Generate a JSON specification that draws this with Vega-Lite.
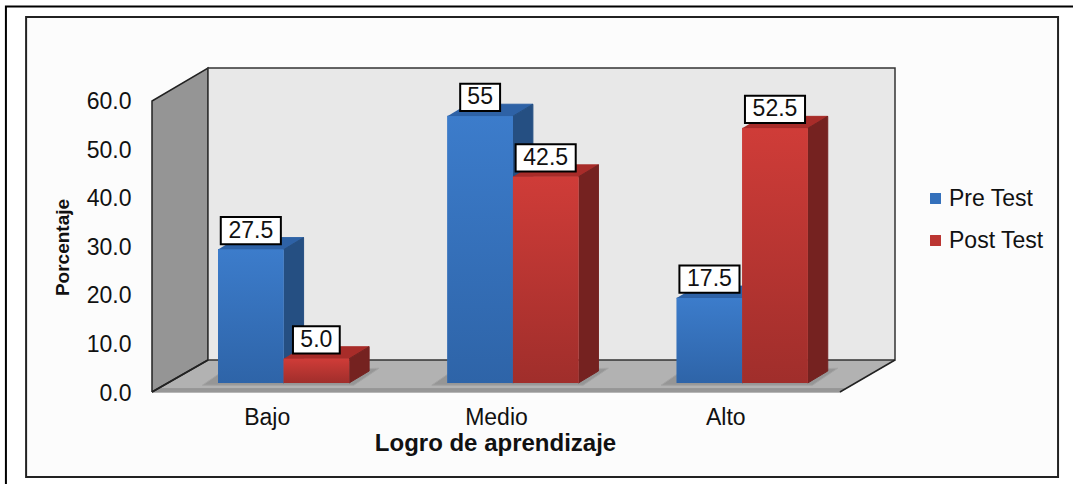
{
"$schema":"https://vega.github.io/schema/vega-lite/v6.json",
"autosize":{"type":"none"},
"width":743,"height":324,
"padding":{"left":152,"top":68,"right":178,"bottom":92},
"background":"#ffffff",
"view":{"stroke":null},
"config":{"font":"Liberation Sans"},
"datasets":{
"bars":[
{"group":"Bajo","g":0,"series":"Pre Test","s":0,"value":27.5,"label":"27.5"},
{"group":"Bajo","g":0,"series":"Post Test","s":1,"value":5.0,"label":"5.0"},
{"group":"Medio","g":1,"series":"Pre Test","s":0,"value":55,"label":"55"},
{"group":"Medio","g":1,"series":"Post Test","s":1,"value":42.5,"label":"42.5"},
{"group":"Alto","g":2,"series":"Pre Test","s":0,"value":17.5,"label":"17.5"},
{"group":"Alto","g":2,"series":"Post Test","s":1,"value":52.5,"label":"52.5"}
],
"frames":[
{"name":"outer","x":-0.637,"xe":4.2,"y":79.5,"ye":-25},
{"name":"inner","x":-0.549,"xe":3.951,"y":77.3,"ye":-17.5}
],
"polys":[
{"face":"left","k":0,"x":0,"y":0},{"face":"left","k":1,"x":0,"y":60},{"face":"left","k":2,"x":0.2442,"y":66.8},{"face":"left","k":3,"x":0.2442,"y":6.6},{"face":"left","k":4,"x":0,"y":0},
{"face":"back","k":0,"x":0.2442,"y":6.6},{"face":"back","k":1,"x":0.2442,"y":66.8},{"face":"back","k":2,"x":3.24,"y":66.8},{"face":"back","k":3,"x":3.24,"y":6.6},{"face":"back","k":4,"x":0.2442,"y":6.6},
{"face":"floor","k":0,"x":0,"y":0},{"face":"floor","k":1,"x":3.0,"y":0},{"face":"floor","k":2,"x":3.24,"y":6.6},{"face":"floor","k":3,"x":0.2442,"y":6.6},{"face":"floor","k":4,"x":0,"y":0},
{"face":"lip","k":0,"x":0,"y":0},{"face":"lip","k":1,"x":3.0,"y":0},{"face":"lip","k":2,"x":3.02,"y":0.7},{"face":"lip","k":3,"x":0.02,"y":0.7},{"face":"lip","k":4,"x":0,"y":0},
{"face":"edge","k":0,"x":0,"y":0},{"face":"edge","k":1,"x":0.2442,"y":6.6},
{"face":"edge2","k":0,"x":3.0,"y":0},{"face":"edge2","k":1,"x":3.24,"y":6.6},
{"face":"s1","k":0,"x":0.22,"y":1.4},{"face":"s1","k":1,"x":0.30,"y":4},{"face":"s1","k":2,"x":0.99,"y":4.9},{"face":"s1","k":3,"x":0.88,"y":1.4},{"face":"s1","k":4,"x":0.22,"y":1.4},
{"face":"s2","k":0,"x":1.22,"y":1.4},{"face":"s2","k":1,"x":1.30,"y":4},{"face":"s2","k":2,"x":1.99,"y":4.9},{"face":"s2","k":3,"x":1.88,"y":1.4},{"face":"s2","k":4,"x":1.22,"y":1.4},
{"face":"s3","k":0,"x":2.22,"y":1.4},{"face":"s3","k":1,"x":2.30,"y":4},{"face":"s3","k":2,"x":2.99,"y":4.9},{"face":"s3","k":3,"x":2.88,"y":1.4},{"face":"s3","k":4,"x":2.22,"y":1.4}
]
},
"data":{"name":"frames"},
"encoding":{
"x":{"field":"x","type":"quantitative","scale":{"domain":[0,3.24],"nice":false,"zero":false},
"axis":{"zindex":2,"values":[0.5,1.5,2.5],"labelExpr":"datum.value<1?'Bajo':datum.value<2?'Medio':'Alto'","ticks":false,"domain":false,"grid":false,"labelFontSize":23,"labelColor":"#111111","labelPadding":25,"labelBaseline":"middle","labelAngle":0,"title":"Logro de aprendizaje","titleFontSize":24,"titleFontWeight":"bold","titleColor":"#111111","titleX":343,"titleY":51,"titleBaseline":"middle","titleAlign":"center"}},
"y":{"field":"y","type":"quantitative","scale":{"domain":[0,66.8],"nice":false,"zero":false},
"axis":{"zindex":2,"values":[0,10,20,30,40,50,60],"format":".1f","ticks":false,"domain":false,"grid":false,"labelFontSize":23,"labelColor":"#111111","labelPadding":21,"labelOffset":1,"title":"Porcentaje","titleFontSize":19,"titleFontWeight":"bold","titleColor":"#111111","titleX":-90,"titleY":179,"titleAngle":-90,"titleBaseline":"middle","titleAlign":"center"}}
},
"layer":[
{"transform":[{"filter":"datum.name==='outer'"}],"mark":{"type":"rect","fill":"#ffffff","stroke":"#000000","strokeWidth":2},"encoding":{"x2":{"field":"xe"},"y2":{"field":"ye"}}},
{"transform":[{"filter":"datum.name==='inner'"}],"mark":{"type":"rect","fill":"#fcfcfc","stroke":"#222222","strokeWidth":2},"encoding":{"x2":{"field":"xe"},"y2":{"field":"ye"}}},
{"data":{"name":"polys"},
"encoding":{"order":{"field":"k","type":"quantitative"}},
"layer":[
{"transform":[{"filter":"datum.face==='floor'"}],"mark":{"type":"line","fill":"#b2b2b2","stroke":"#b2b2b2","strokeWidth":1}},
{"transform":[{"filter":"datum.face==='lip'"}],"mark":{"type":"line","fill":"#979797","stroke":"#979797","strokeWidth":1}},
{"transform":[{"filter":"datum.face==='left'"}],"mark":{"type":"line","fill":"#959595","stroke":"#222222","strokeWidth":1.5}},
{"transform":[{"filter":"datum.face==='back'"}],"mark":{"type":"line","fill":"#e8e8e8","stroke":"#333333","strokeWidth":1.5}},
{"transform":[{"filter":"datum.face==='edge'||datum.face==='edge2'"}],"mark":{"type":"line","stroke":"#222222","strokeWidth":1.5},"encoding":{"detail":{"field":"face"}}},
{"transform":[{"filter":"datum.face==='s1'||datum.face==='s2'||datum.face==='s3'"}],"mark":{"type":"line","fill":"#969696","stroke":"#a4a4a4","strokeWidth":1},"encoding":{"detail":{"field":"face"}}}
]},
{"data":{"name":"bars"},
"transform":[
{"calculate":"datum.g+0.288+datum.s*0.2858","as":"x0"},
{"calculate":"datum.x0+0.2858","as":"x1"},
{"calculate":"datum.value+1.86","as":"top"},
{"calculate":"[0,1,2,3]","as":"corner"},
{"flatten":["corner"]}
],
"encoding":{"order":{"field":"corner","type":"quantitative"},"detail":{"field":"group"}},
"layer":[
{"transform":[{"filter":"datum.s===0"},{"calculate":"datum.corner<2?datum.x0+(datum.corner===1?0.2858:0):datum.x0+0.0872+(datum.corner===2?0.2858:0)","as":"x"},{"calculate":"datum.corner<2?datum.top:datum.top+2.47","as":"y"}],"mark":{"type":"line","fill":"#2e62a6","stroke":"#2e62a6","strokeWidth":1}},
{"transform":[{"filter":"datum.s===0"},{"calculate":"datum.corner===0||datum.corner===3?datum.x1:datum.x1+0.0872","as":"x"},{"calculate":"(datum.corner===0?1.86:datum.corner===1?4.33:datum.corner===2?datum.top+2.47:datum.top)","as":"y"}],"mark":{"type":"line","fill":"#254f82","stroke":"#254f82","strokeWidth":1}},
{"transform":[{"filter":"datum.s===1"},{"calculate":"datum.corner<2?datum.x0+(datum.corner===1?0.2858:0):datum.x0+0.0872+(datum.corner===2?0.2858:0)","as":"x"},{"calculate":"datum.corner<2?datum.top:datum.top+2.47","as":"y"}],"mark":{"type":"line","fill":"#a82c29","stroke":"#a82c29","strokeWidth":1}},
{"transform":[{"filter":"datum.s===1"},{"calculate":"datum.corner===0||datum.corner===3?datum.x1:datum.x1+0.0872","as":"x"},{"calculate":"(datum.corner===0?1.86:datum.corner===1?4.33:datum.corner===2?datum.top+2.47:datum.top)","as":"y"}],"mark":{"type":"line","fill":"#752220","stroke":"#752220","strokeWidth":1}}
]},
{"data":{"name":"bars"},
"transform":[
{"calculate":"datum.g+0.288+datum.s*0.2858","as":"x"},
{"calculate":"datum.x+0.2858","as":"xe"},
{"calculate":"datum.value+1.86","as":"y"},
{"calculate":"1.86","as":"ye"}
],
"encoding":{"x2":{"field":"xe"},"y2":{"field":"ye"}},
"layer":[
{"mark":{"type":"rect"},
"encoding":{
"fill":{"field":"series","type":"nominal","sort":["Pre Test","Post Test"],
"scale":{"domain":["Pre Test","Post Test"],"range":["#3470bb","#bb3532"]},
"legend":{"orient":"none","legendX":772,"legendY":119,"title":null,"symbolType":"square","symbolSize":120,"symbolStrokeWidth":0,"labelFontSize":23,"labelColor":"#111111","rowPadding":18,"labelOffset":2}}
}},
{"transform":[{"filter":"datum.s===0"}],"mark":{"type":"rect","fill":{"gradient":"linear","x1":0,"y1":0,"x2":0,"y2":1,"stops":[{"offset":0,"color":"#3c7ccb"},{"offset":1,"color":"#2e64a8"}]}}},
{"transform":[{"filter":"datum.s===1"}],"mark":{"type":"rect","fill":{"gradient":"linear","x1":0,"y1":0,"x2":0,"y2":1,"stops":[{"offset":0,"color":"#cf3c38"},{"offset":1,"color":"#a02e2b"}]}}}
]},
{"data":{"name":"bars"},
"transform":[
{"calculate":"datum.g+0.288+datum.s*0.2858+0.1429","as":"cx"},
{"calculate":"datum.value+1.86+3.9","as":"cy"},
{"calculate":"length(datum.label)===4?0.131:length(datum.label)===3?0.102:0.087","as":"hw"},
{"calculate":"datum.cx-datum.hw","as":"x"},
{"calculate":"datum.cx+datum.hw","as":"xe"},
{"calculate":"datum.cy+2.8","as":"y"},
{"calculate":"datum.cy-2.8","as":"ye"}
],
"mark":{"type":"rect","fill":"#ffffff","stroke":"#000000","strokeWidth":2},
"encoding":{"x2":{"field":"xe"},"y2":{"field":"ye"}}
},
{"data":{"name":"bars"},
"transform":[
{"calculate":"datum.g+0.288+datum.s*0.2858+0.1429","as":"x"},
{"calculate":"datum.value+1.86+3.9","as":"y"}
],
"mark":{"type":"text","fontSize":23,"fill":"#111111","align":"center","baseline":"middle"},
"encoding":{"text":{"field":"label"}}
}
]
}
